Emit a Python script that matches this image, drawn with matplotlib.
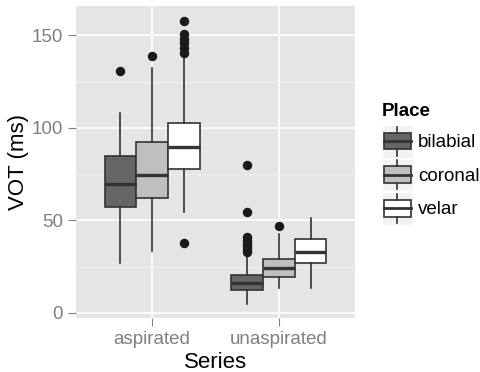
import matplotlib

matplotlib.use("Agg")
import matplotlib.pyplot as plt
from matplotlib.legend_handler import HandlerBase
from matplotlib.patches import Patch, Rectangle
from matplotlib.lines import Line2D

plt.rcParams["font.family"] = ["Liberation Sans", "DejaVu Sans"]

# box statistics (ms)
series = ["aspirated", "unaspirated"]
places = ["bilabial", "coronal", "velar"]
fills = ["#666666", "#BFBFBF", "#FFFFFF"]

q1 = [[57.4, 62.3, 77.8], [12.5, 19.3, 26.9]]
med = [[69.8, 74.4, 89.7], [16.4, 24.2, 33.0]]
q3 = [[85.0, 92.2, 102.7], [20.6, 29.2, 39.9]]
whislo = [[27.0, 33.7, 54.7], [4.9, 13.4, 13.4]]
whishi = [[108.0, 132.5, 138.0], [30.5, 42.6, 51.3]]
fliers = [
    [[130.5], [139.0], [37.7, 140.6, 143.3, 146.0, 148.0, 151.0, 158.0]],
    [[33.0, 34.5, 36.0, 37.5, 39.0, 40.8, 54.3, 79.7], [47.1], []],
]

LINE = "#333333"
GREY = "#7F7F7F"

fig = plt.figure(figsize=(4.8, 3.72), dpi=100)
ax = fig.add_axes([76 / 480, 54 / 372, 279 / 480, 312 / 372])
ax.set_facecolor("#E5E5E5")

dodge = [-0.25, 0.0, 0.25]
for g in range(len(series)):
    for p in range(len(places)):
        st = dict(med=med[g][p], q1=q1[g][p], q3=q3[g][p],
                  whislo=whislo[g][p], whishi=whishi[g][p], fliers=fliers[g][p])
        ax.bxp([st], positions=[g + 1 + dodge[p]], widths=0.25, patch_artist=True,
               showcaps=False, manage_ticks=False,
               boxprops=dict(facecolor=fills[p], edgecolor=LINE, linewidth=1.2),
               whiskerprops=dict(color=LINE, linewidth=1.2),
               medianprops=dict(color=LINE, linewidth=2.4, solid_capstyle="butt"),
               flierprops=dict(marker="o", markersize=5.8, markerfacecolor="#1A1A1A",
                               markeredgecolor="#1A1A1A"))

ax.set_xlim(0.4, 2.6)
ax.set_ylim(-2.75, 165.9)
ax.set_xticks([1, 2], series)
ax.set_yticks([0, 50, 100, 150])
ax.set_yticks([25, 75, 125], minor=True)
ax.grid(True, which="major", color="white", linewidth=1.2)
ax.grid(True, which="minor", axis="y", color="#F2F2F2", linewidth=0.6)
ax.set_axisbelow(True)
for s in ax.spines.values():
    s.set_visible(False)
ax.tick_params(which="major", length=5.8, width=0.8, color=GREY, labelcolor=GREY,
               labelsize=13.5, pad=3.5)
ax.tick_params(which="minor", length=0)
ax.set_xlabel("Series", fontsize=16, labelpad=3)
ax.set_ylabel("VOT (ms)", fontsize=16, labelpad=2)


class BoxKey(HandlerBase):
    def create_artists(self, legend, orig_handle, xdescent, ydescent, width, height,
                       fontsize, trans):
        x0, y0 = -xdescent, -ydescent
        cx = x0 + width / 2
        bg = Rectangle((x0, y0), width, height, facecolor="#F2F2F2", edgecolor="white",
                       linewidth=1, transform=trans)
        box = Rectangle((x0 + 0.07 * width, y0 + 0.25 * height), 0.86 * width,
                        0.52 * height, facecolor=orig_handle.get_facecolor(),
                        edgecolor=LINE, linewidth=1.2, transform=trans)
        w1 = Line2D([cx, cx], [y0 + 0.06 * height, y0 + 0.25 * height], color=LINE,
                    linewidth=1.2, transform=trans)
        w2 = Line2D([cx, cx], [y0 + 0.77 * height, y0 + 0.95 * height], color=LINE,
                    linewidth=1.2, transform=trans)
        m = Line2D([x0 + 0.07 * width, x0 + 0.93 * width], [y0 + 0.51 * height] * 2,
                   color=LINE, linewidth=2.0, transform=trans)
        return [bg, box, w1, w2, m]


handles = [Patch(facecolor=c) for c in fills]
leg = fig.legend(handles, places, handler_map={Patch: BoxKey()},
                 loc="upper left", bbox_to_anchor=(382 / 480, 1 - 125 / 372),
                 frameon=False, fontsize=13.5,
                 handlelength=1.65, handleheight=2.3,
                 handletextpad=0.27, labelspacing=0.05, borderpad=0, borderaxespad=0)
fig.text(382 / 480, 1 - 116 / 372, "Place", fontsize=13.5, fontweight="bold",
         ha="left", va="baseline")

fig.savefig("out.png", dpi=100, facecolor="white")
